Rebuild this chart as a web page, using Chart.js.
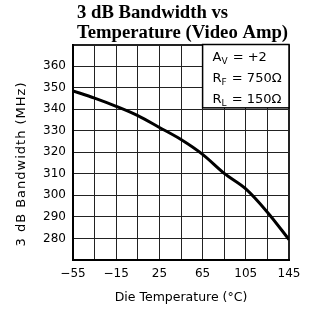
<!DOCTYPE html>
<html>
<head>
<meta charset="utf-8">
<script src="https://cdn.jsdelivr.net/npm/chart.js@4"></script>
<style>
  body { margin: 0; background: #fff; }
  #caja { width: 309px; height: 320px; }
</style>
</head>
<body>
<div id="caja"><canvas id="grafico" width="309" height="320"></canvas></div>
<script>
// datos
const temperaturas = [-55, -35, -15, 5, 25, 45, 65, 85, 105, 125, 145];
const anchoBanda = [348.5, 345.1, 341.3, 337.0, 331.5, 325.9, 319.0, 310.2, 303.0, 292.2, 279.5];
const etiquetasX = [-55, -15, 25, 65, 105, 145];
const etiquetasY = [280, 290, 300, 310, 320, 330, 340, 350, 360];
const tituloGrafico = ["3 dB Bandwidth vs", "Temperature (Video Amp)"];
const tituloX = "Die Temperature (\u00B0C)";
const tituloY = "3 dB Bandwidth (MHz)";
const condiciones = [
  ["A", "V", " = +2"],
  ["R", "F", " = 750\u03A9"],
  ["R", "L", " = 150\u03A9"]
];

const fuente = "'DejaVu Sans', sans-serif";

const textos = {
  id: "textos",
  afterDraw(chart) {
    const ctx = chart.ctx;
    const x = chart.scales.x;
    const y = chart.scales.y;
    ctx.save();

    // titulo
    ctx.fillStyle = "#000";
    ctx.font = "bold 18.7px 'Liberation Serif', serif";
    ctx.textBaseline = "middle";
    ctx.textAlign = "left";
    ctx.fillText(tituloGrafico[0], 77, 13);
    ctx.fillText(tituloGrafico[1], 77, 33);

    // titulos de ejes
    ctx.textAlign = "center";
    ctx.font = "12.5px " + fuente;
    ctx.fillText(tituloX, (x.left + x.right) / 2, 298);
    ctx.save();
    ctx.font = "13px " + fuente;
    ctx.letterSpacing = "1px";
    ctx.translate(22, 164);
    ctx.rotate(-Math.PI / 2);
    ctx.fillText(tituloY, 0, 0);
    ctx.restore();

    // cuadro de condiciones
    const x0 = x.getPixelForValue(65);
    const x1 = x.getPixelForValue(145);
    const y0 = y.getPixelForValue(370);
    const y1 = y.getPixelForValue(340.6);
    ctx.fillStyle = "#fff";
    ctx.fillRect(x0, y0, x1 - x0, y1 - y0);
    ctx.strokeStyle = "#000";
    ctx.lineWidth = 1.5;
    ctx.strokeRect(x0, y0, x1 - x0, y1 - y0);

    ctx.fillStyle = "#000";
    ctx.textAlign = "left";
    ctx.textBaseline = "alphabetic";
    const bases = [61, 82, 102.5];
    condiciones.forEach((c, i) => {
      let px = 212.5;
      ctx.font = "13px " + fuente;
      ctx.fillText(c[0], px, bases[i]);
      px += ctx.measureText(c[0]).width;
      ctx.font = "9px " + fuente;
      ctx.fillText(c[1], px, bases[i] + 3);
      px += ctx.measureText(c[1]).width + 1;
      ctx.font = "13px " + fuente;
      ctx.fillText(c[2], px, bases[i]);
    });
    ctx.restore();
  }
};

const ctx = document.getElementById("grafico").getContext("2d");

new Chart(ctx, {
  type: "line",
  data: {
    datasets: [
      {
        data: temperaturas.map((t, i) => ({ x: t, y: anchoBanda[i] })),
        borderColor: "#000",
        borderWidth: 3,
        pointRadius: 0,
        fill: false,
        cubicInterpolationMode: "monotone"
      }
    ]
  },
  options: {
    responsive: false,
    animation: false,
    layout: { padding: { top: 44.5, right: 20, left: 0, bottom: 0 } },
    plugins: {
      legend: { display: false },
      tooltip: { enabled: false }
    },
    scales: {
      x: {
        type: "linear",
        min: -55,
        max: 145,
        afterFit(s) { s.height = 60; },
        afterBuildTicks(s) {
          const t = [];
          for (let v = -55; v <= 145; v += 20) t.push({ value: v });
          s.ticks = t;
        },
        ticks: {
          font: { family: fuente, size: 12 },
          color: "#000",
          padding: 7,
          maxRotation: 0,
          autoSkip: false,
          callback: (v) => etiquetasX.includes(v) ? String(v).replace("-", "\u2212") : ""
        },
        grid: {
          drawTicks: false,
          color: "#222",
          lineWidth: (c) => c.tick && c.tick.value === 145 ? 2 : 1
        },
        border: { display: true, color: "#000", width: 2 }
      },
      y: {
        min: 270,
        max: 370,
        afterFit(s) { s.width = 73; },
        afterBuildTicks(s) {
          const t = [];
          for (let v = 270; v <= 370; v += 10) t.push({ value: v });
          s.ticks = t;
        },
        ticks: {
          font: { family: fuente, size: 12 },
          color: "#000",
          padding: 7,
          autoSkip: false,
          callback: (v) => etiquetasY.includes(v) ? String(v) : ""
        },
        grid: {
          drawTicks: false,
          color: "#222",
          lineWidth: (c) => c.tick && c.tick.value === 370 ? 2 : 1
        },
        border: { display: true, color: "#000", width: 2 }
      }
    }
  },
  plugins: [textos]
});
</script>
</body>
</html>
